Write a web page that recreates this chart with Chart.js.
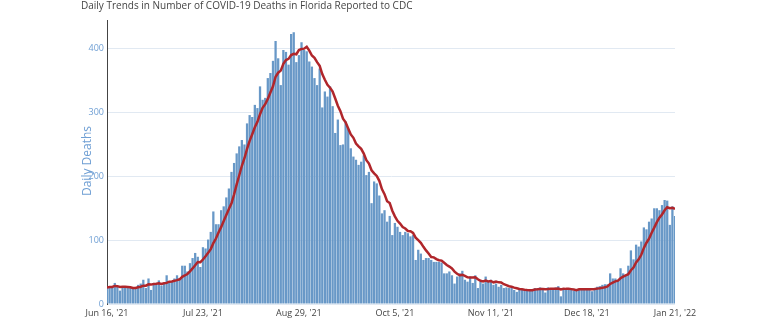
<!DOCTYPE html>
<html>
<head>
<meta charset="utf-8">
<script src="https://cdn.jsdelivr.net/npm/chart.js@4/dist/chart.umd.min.js"></script>
<style>
  html, body { margin: 0; padding: 0; background: #fff; }
  #wrap { width: 768px; height: 333px; position: relative; }
</style>
</head>
<body>
<div id="wrap"><canvas id="c" width="768" height="333"></canvas></div>
<script>
// Daily deaths reported, one value per day starting Jun 16, 2021 (day 0) through Jan 21, 2022 (day 219)
const dailyDeaths = [
  26, 27, 27, 33, 27, 21, 27, 26, 25, 25, 25, 26, 30, 32, 38, 25, 40, 22, 33, 33,
  37, 29, 33, 45, 35, 35, 40, 45, 38, 60, 60, 51, 64, 72, 80, 74, 58, 89, 87, 101,
  113, 145, 125, 125, 147, 153, 167, 181, 207, 221, 236, 247, 257, 250, 283, 296, 293, 312, 307, 341,
  320, 323, 354, 362, 381, 412, 385, 343, 398, 395, 375, 423, 426, 379, 390, 410, 398, 396, 380, 372,
  354, 343, 369, 308, 333, 325, 341, 310, 268, 289, 249, 250, 286, 274, 244, 231, 226, 218, 223, 233,
  202, 207, 158, 192, 189, 170, 142, 147, 129, 138, 108, 127, 121, 113, 108, 113, 111, 106, 108, 69,
  85, 79, 69, 72, 72, 69, 66, 66, 66, 65, 48, 48, 51, 45, 32, 43, 48, 52, 38, 35,
  43, 33, 45, 25, 35, 32, 43, 35, 38, 30, 32, 27, 30, 25, 26, 25, 25, 22, 19, 22,
  22, 22, 22, 23, 22, 25, 25, 26, 22, 18, 26, 25, 25, 26, 28, 12, 25, 25, 25, 22,
  21, 22, 22, 25, 25, 25, 22, 20, 25, 27, 28, 30, 31, 31, 48, 40, 40, 37, 56, 48,
  45, 60, 84, 70, 93, 90, 98, 120, 117, 129, 134, 150, 150, 147, 155, 163, 162, 124, 153, 138
];

// 7-day average trend line, same days
const sevenDayAvg = [
  26.0, 26.5, 26.7, 28.3, 28.0, 26.8, 26.9, 26.9, 26.6, 26.3, 25.1, 25.0, 26.3, 27.0, 28.7, 28.7, 30.9, 30.4, 31.4, 31.9,
  32.6, 31.3, 32.4, 33.1, 35.0, 35.3, 36.3, 37.4, 38.7, 42.6, 44.7, 47.0, 51.1, 55.7, 60.7, 65.9, 65.6, 69.7, 74.9, 80.1,
  86.0, 95.3, 102.6, 112.1, 120.4, 129.9, 139.3, 149.0, 157.9, 171.6, 187.4, 201.7, 216.6, 228.4, 243.0, 255.7, 266.0, 276.9, 285.4, 297.4,
  307.4, 313.1, 321.4, 331.3, 341.1, 356.1, 362.4, 365.7, 376.4, 382.3, 384.1, 390.1, 392.1, 391.3, 398.0, 399.7, 400.1, 403.1, 397.0, 389.3,
  385.7, 379.0, 373.1, 360.3, 351.3, 343.4, 339.0, 332.7, 322.0, 310.6, 302.1, 290.3, 284.7, 275.1, 265.7, 260.4, 251.4, 247.0, 243.1, 235.6,
  225.3, 220.0, 209.6, 204.7, 200.6, 193.0, 180.0, 172.1, 161.0, 158.1, 146.1, 137.3, 130.3, 126.1, 120.6, 118.3, 114.4, 114.1, 111.4, 104.0,
  100.0, 95.9, 89.6, 84.0, 79.1, 73.6, 73.1, 70.4, 68.6, 68.0, 64.6, 61.1, 58.6, 55.6, 50.7, 47.4, 45.0, 45.6, 44.1, 41.9,
  41.6, 41.7, 42.0, 38.7, 36.3, 35.4, 36.6, 35.4, 36.1, 34.0, 35.0, 33.9, 33.6, 31.0, 29.7, 27.9, 27.1, 25.7, 24.6, 23.4,
  23.0, 22.4, 22.0, 21.7, 21.7, 22.6, 23.0, 23.6, 23.6, 23.0, 23.4, 23.9, 23.9, 24.0, 24.3, 22.9, 23.9, 23.7, 23.7, 23.3,
  22.6, 21.7, 23.1, 23.1, 23.1, 23.1, 23.1, 23.0, 23.4, 24.1, 24.6, 25.3, 26.1, 27.4, 31.4, 33.6, 35.4, 36.7, 40.4, 42.9,
  44.9, 46.6, 52.9, 57.1, 65.1, 70.0, 77.1, 87.9, 96.0, 102.4, 111.6, 119.7, 128.3, 135.3, 140.3, 146.9, 151.6, 150.1, 150.6, 148.9
];

// Date ticks on the day axis
const tickDays = [0, 37, 74, 111, 148, 185, 219];
const tickLabels = ["Jun 16, '21", "Jul 23, '21", "Aug 29, '21", "Oct 5, '21", "Nov 11, '21", "Dec 18, '21", "Jan 21, '22"];
const yTickValues = [0, 100, 200, 300, 400];

const chartTitle = 'Daily Trends in Number of COVID-19 Deaths in Florida Reported to CDC';
const yAxisTitle = 'Daily Deaths';

const FONT = '"Open Sans", "Noto Sans", sans-serif';

// Headline and rotated axis title, painted last so the axis title sits over the tick labels
const headings = {
  id: 'headings',
  afterDraw(chart) {
    const ctx = chart.ctx;
    ctx.save();
    ctx.fillStyle = '#444444';
    ctx.font = '10px ' + FONT;
    ctx.textBaseline = 'middle';
    ctx.textAlign = 'left';
    ctx.fillText(chartTitle, 81, 6);
    ctx.translate(88, 161);
    ctx.rotate(-Math.PI / 2);
    ctx.textAlign = 'center';
    ctx.fillStyle = '#6f9fd4';
    ctx.font = '12px ' + FONT;
    ctx.fillText(yAxisTitle, 0, 0);
    ctx.restore();
  }
};

new Chart(document.getElementById('c'), {
  type: 'bar',
  data: {
    datasets: [
      {
        type: 'line',
        label: '7-day average',
        data: sevenDayAvg.map((v, i) => ({ x: i, y: v })),
        borderColor: '#b0262b',
        borderWidth: 2.5,
        pointRadius: 0,
        tension: 0,
        order: 0
      },
      {
        type: 'bar',
        label: 'Daily deaths',
        data: dailyDeaths.map((v, i) => ({ x: i, y: v })),
        backgroundColor: '#6898c7',
        borderWidth: 0,
        barPercentage: 0.88,
        categoryPercentage: 1,
        order: 1
      }
    ]
  },
  options: {
    responsive: false,
    animation: false,
    layout: { padding: { top: 20, right: 93, left: 0, bottom: 0 } },
    plugins: {
      legend: { display: false },
      tooltip: { enabled: false },
      title: { display: false }
    },
    scales: {
      x: {
        type: 'linear',
        offset: false,
        min: 0,
        max: 219,
        grid: { display: false, drawTicks: false, offset: false },
        border: { display: false },
        afterBuildTicks: (s) => { s.ticks = tickDays.map(v => ({ value: v })); },
        afterFit: (s) => { s.height = 29; },
        ticks: {
          autoSkip: false,
          maxRotation: 0,
          padding: 4,
          color: '#444444',
          font: { family: FONT, size: 9 },
          callback: (v) => tickLabels[tickDays.indexOf(v)]
        }
      },
      y: {
        min: 0,
        max: 445,
        grid: { color: '#e1e9f2', lineWidth: 1, drawTicks: false },
        border: { display: true, color: '#444444', width: 1 },
        afterBuildTicks: (s) => { s.ticks = yTickValues.map(v => ({ value: v })); },
        afterFit: (s) => { s.width = 107; },
        ticks: {
          padding: 3,
          color: '#6f9fd4',
          font: { family: FONT, size: 9 }
        }
      }
    }
  },
  plugins: [headings]
});
</script>
</body>
</html>
